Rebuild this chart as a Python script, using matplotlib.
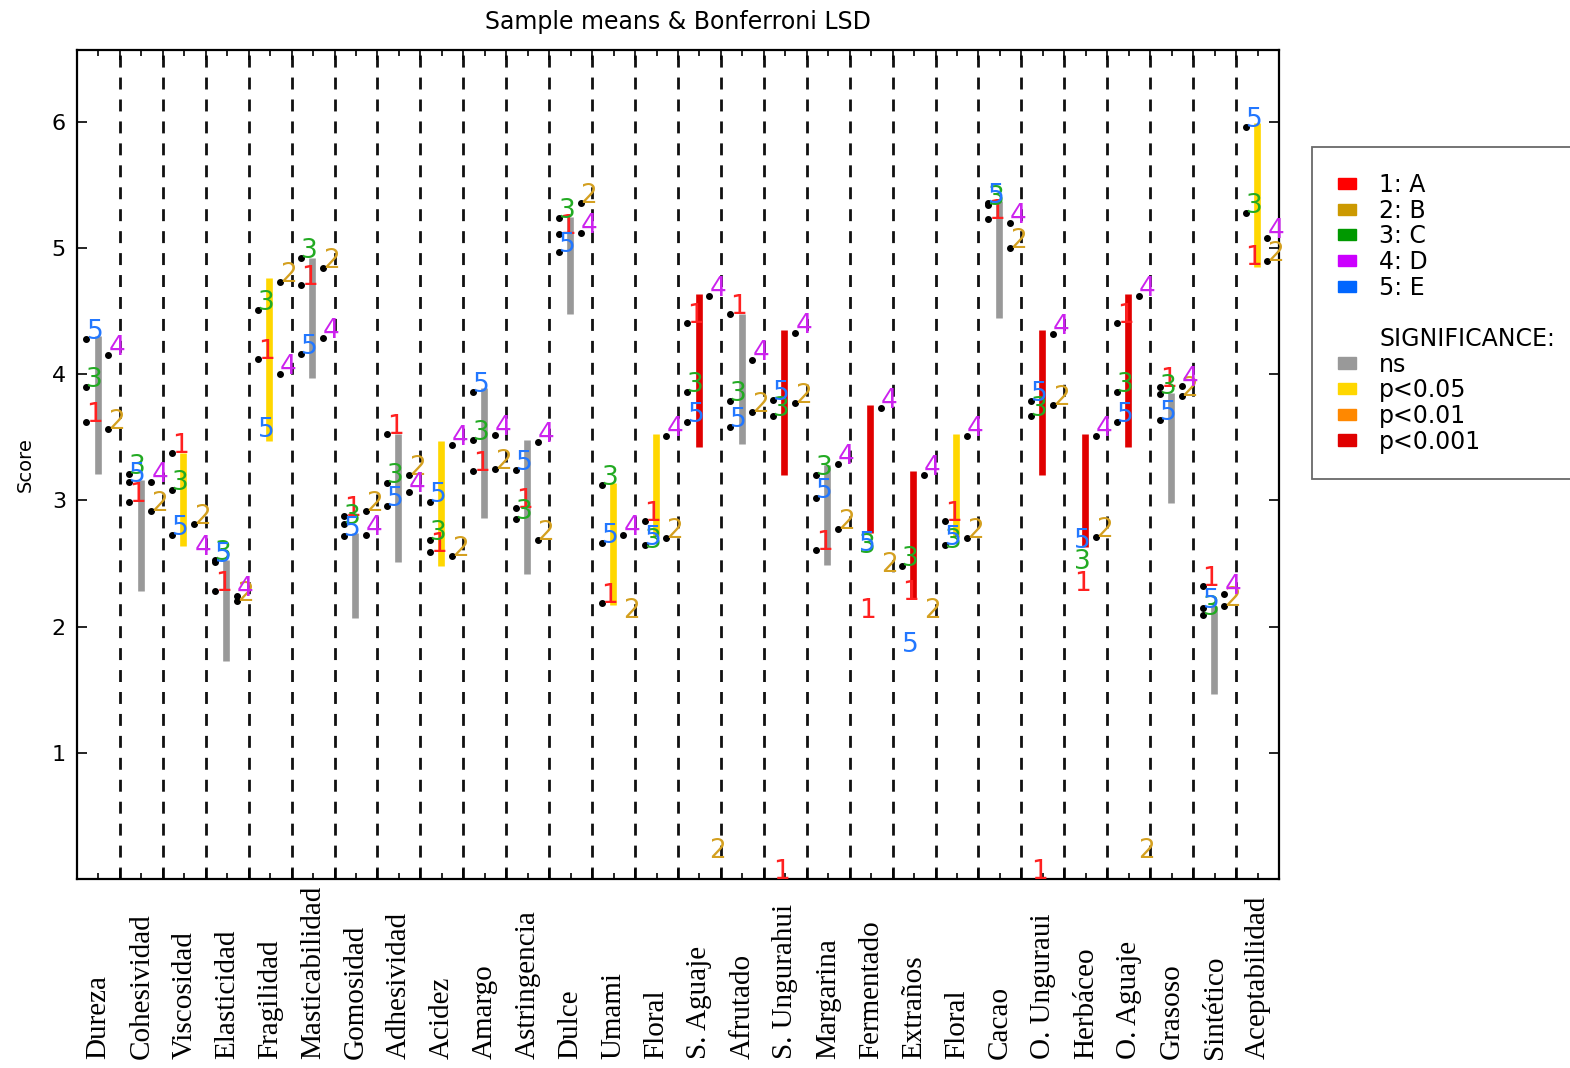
import matplotlib.pyplot as plt
from matplotlib.patches import Patch
from matplotlib.transforms import blended_transform_factory

attributes = ['Dureza', 'Cohesividad', 'Viscosidad', 'Elasticidad', 'Fragilidad',
              'Masticabilidad', 'Gomosidad', 'Adhesividad', 'Acidez', 'Amargo',
              'Astringencia', 'Dulce', 'Umami', 'Floral', 'S. Aguaje', 'Afrutado',
              'S. Ungurahui', 'Margarina', 'Fermentado', 'Extraños', 'Floral', 'Cacao',
              'O. Unguraui', 'Herbáceo', 'O. Aguaje', 'Grasoso', 'Sintético',
              'Aceptabilidad']
samples = ['1', '2', '3', '4', '5']
sample_names = ['A', 'B', 'C', 'D', 'E']

# sample means (label positions), columns = samples 1..5
means = [
    [3.62, 3.57, 3.90, 4.15, 4.28],
    [2.99, 2.92, 3.21, 3.15, 3.15],
    [3.38, 2.81, 3.08, 2.57, 2.73],
    [2.28, 2.20, 2.53, 2.24, 2.51],
    [4.12, 4.73, 4.51, 4.00, 3.50],
    [4.71, 4.84, 4.92, 4.29, 4.16],
    [2.88, 2.92, 2.81, 2.73, 2.72],
    [3.53, 3.20, 3.14, 3.07, 2.96],
    [2.59, 2.56, 2.69, 3.44, 2.99],
    [3.23, 3.25, 3.48, 3.52, 3.86],
    [2.94, 2.69, 2.85, 3.46, 3.24],
    [5.11, 5.36, 5.24, 5.12, 4.97],
    [2.19, 2.07, 3.12, 2.73, 2.66],
    [2.84, 2.70, 2.62, 3.51, 2.65],
    [4.41, 0.17, 3.86, 4.62, 3.62],
    [4.48, 3.70, 3.79, 4.11, 3.58],
    [0.00, 3.77, 3.67, 4.33, 3.80],
    [2.61, 2.77, 3.20, 3.29, 3.02],
    [2.07, 2.43, 2.58, 3.73, 2.60],
    [2.21, 2.07, 2.48, 3.20, 1.80],
    [2.84, 2.70, 2.62, 3.51, 2.65],
    [5.23, 5.00, 5.34, 5.20, 5.36],
    [0.00, 3.76, 3.67, 4.32, 3.79],
    [2.28, 2.71, 2.46, 3.51, 2.62],
    [4.41, 0.17, 3.86, 4.62, 3.62],
    [3.90, 3.83, 3.84, 3.91, 3.64],
    [2.32, 2.16, 2.09, 2.26, 2.15],
    [4.87, 4.90, 5.28, 5.08, 5.96],
]

# Bonferroni LSD bar for each attribute
lsd_top = [4.30, 3.16, 3.38, 2.53, 4.76, 4.92, 2.74, 3.53, 3.47, 3.89, 3.48, 5.25, 3.14, 3.53,
           4.64, 4.48, 4.35, 3.28, 3.755, 3.23, 3.53, 5.37, 4.35, 3.53, 4.64, 3.85, 2.16, 5.99]
lsd_bottom = [3.21, 2.28, 2.64, 1.73, 3.47, 3.97, 2.07, 2.51, 2.48, 2.86, 2.42, 4.48, 2.17, 2.72,
              3.42, 3.45, 3.20, 2.49, 2.74, 2.22, 2.71, 4.45, 3.20, 2.63, 3.42, 2.98, 1.47, 4.85]
significance = ['ns', 'ns', 'p<0.05', 'ns', 'p<0.05', 'ns', 'ns', 'ns', 'p<0.05', 'ns', 'ns',
                'ns', 'p<0.05', 'p<0.05', 'p<0.001', 'ns', 'p<0.001', 'ns', 'p<0.001',
                'p<0.001', 'p<0.05', 'ns', 'p<0.001', 'p<0.001', 'p<0.001', 'ns', 'ns', 'p<0.05']

# (attribute, sample) pairs whose dot is not visible
no_dot = {(2, 3), (4, 4), (12, 1), (13, 2), (14, 1), (16, 0), (18, 0), (18, 1), (18, 2),
          (18, 4), (19, 0), (19, 1), (19, 4), (20, 2), (22, 0), (23, 0), (23, 2), (23, 4),
          (24, 1), (27, 0)}

text_colors = ['#ff2020', '#d4a020', '#22aa22', '#cc22ee', '#2277ff']
legend_colors = ['#ff0000', '#cc9900', '#009900', '#cc00ff', '#0066ff']
sig_levels = ['ns', 'p<0.05', 'p<0.01', 'p<0.001']
sig_colors = {'ns': '#999999', 'p<0.05': '#ffd700', 'p<0.01': '#ff8800', 'p<0.001': '#e00000'}

fig = plt.figure(figsize=(15.7, 10.68), dpi=100)
ax = fig.add_axes([77 / 1570, 1 - 879 / 1068, 1202 / 1570, 829 / 1068])

n = len(attributes)
for k in range(1, n):
    ax.axvline(k, color='#111111', lw=2, ls=(0, (4.3, 3.6)), zorder=1)

for i in range(n):
    ax.vlines(i + 0.48, lsd_bottom[i], lsd_top[i], color=sig_colors[significance[i]],
              lw=4.8, zorder=2)
    for j in range(5):
        x = i + (0.22 if j % 2 == 0 else 0.73)
        y = means[i][j]
        if (i, j) not in no_dot:
            ax.plot(x, y, 'o', color='k', ms=4, zorder=3)
        ax.text(x, y, samples[j], color=text_colors[j], fontsize=19,
                ha='left', va='baseline', zorder=4)

ax.set_xlim(0, n)
ax.set_ylim(0, 6.57)
ax.set_yticks([1, 2, 3, 4, 5, 6])
ax.set_xticks(range(n + 1))
ax.set_xticks([i + 0.5 for i in range(n)], minor=True)
ax.set_xticklabels([])
ax.tick_params(axis='both', which='major', direction='in', length=7, width=1.2,
               top=True, right=True, labelsize=16, pad=8)
ax.tick_params(axis='x', which='minor', direction='in', length=4, width=1.2, top=True)
for s in ax.spines.values():
    s.set_linewidth(1.6)

trans = blended_transform_factory(ax.transData, fig.transFigure)
for i, name in enumerate(attributes):
    ax.text(i + 0.5, 0.008, name, transform=trans, rotation=90, ha='center', va='bottom',
            fontsize=21, family='Liberation Serif')

ax.set_ylabel('Score', fontsize=14, labelpad=12)
ax.set_title('Sample means & Bonferroni LSD', fontsize=17, pad=15)

handles = [Patch(color=c) for c in legend_colors]
handles += [Patch(facecolor='none', edgecolor='none'), Patch(facecolor='none', edgecolor='none')]
handles += [Patch(color=sig_colors[s]) for s in sig_levels]
labels = ['%s: %s' % (s, nm) for s, nm in zip(samples, sample_names)]
labels += [' ', 'SIGNIFICANCE:'] + sig_levels
leg = fig.legend(handles, labels, loc='upper left', bbox_to_anchor=(1312 / 1570, 1 - 147 / 1068),
                 bbox_transform=fig.transFigure, fontsize=17, fancybox=False,
                 edgecolor='#444444', borderpad=1.1, labelspacing=0.07, handlelength=0.75,
                 handleheight=0.35, handletextpad=1.0, borderaxespad=0)
leg.get_frame().set_linewidth(1.3)

fig.savefig('out.png', dpi=100)
